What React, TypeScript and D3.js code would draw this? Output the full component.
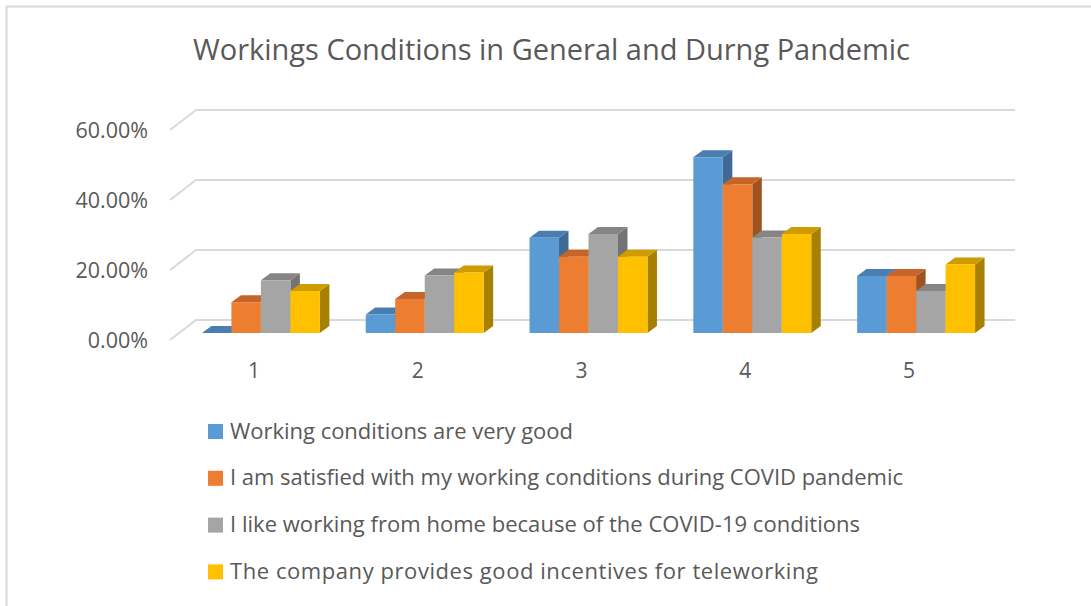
import React from "react";
import * as d3 from "d3";

const categories = ["1", "2", "3", "4", "5"];
const seriesNames = [
  "Working conditions are very good",
  "I am satisfied with my working conditions during COVID pandemic",
  "I like working from home because of the COVID-19 conditions",
  "The company provides good incentives for teleworking",
];
const seriesGood = [0, 5.3, 27.2, 50.2, 16.3];
const seriesSatisfied = [8.8, 9.7, 21.8, 42.5, 16.3];
const seriesHome = [15.1, 16.4, 28.3, 27.3, 12.0];
const seriesIncentives = [12.0, 17.3, 21.8, 28.3, 19.6];
const yTicks = [0, 20, 40, 60];

const seriesValues = [seriesGood, seriesSatisfied, seriesHome, seriesIncentives];
const frontColors = ["#5B9BD5", "#ED7D31", "#A5A5A5", "#FFC000"];
const topColors = ["#4A7EB0", "#C5652A", "#858585", "#CE9C00"];
const sideColors = ["#3E6A95", "#A0521F", "#737373", "#A88000"];
const legendWidths = [343, 673, 630, 588];

const W = 1091;
const H = 606;
const FONT = "'Open Sans', 'Noto Sans', sans-serif";
const TXT = "#595959";
const GRID = "#d9d9d9";

export default function App() {
  const frontX0 = 170, frontX1 = 989;
  const wallDX = 26;
  const backBase = 320, frontBase = 340, barBase = 333;
  const pxRange = 210; // 60%
  const barShiftX = 9;
  const sideDX = 9.5, sideDY = -7;

  const x = d3.scaleBand<string>().domain(categories).range([frontX0, frontX1]);
  const groupW = x.bandwidth() * 0.72;
  const inner = d3.scaleBand<number>().domain([0, 1, 2, 3]).range([0, groupW]);
  const yBack = d3.scaleLinear().domain([0, 60]).range([backBase, backBase - pxRange]);
  const yFront = d3.scaleLinear().domain([0, 60]).range([frontBase, frontBase - pxRange]);
  const yBar = d3.scaleLinear().domain([0, 60]).range([barBase, barBase - pxRange]);
  const fmt = (v: number) => d3.format(".2f")(v) + "%";

  const bars: React.ReactNode[] = [];
  categories.forEach((c, ci) => {
    const gx = (x(c) as number) + (x.bandwidth() - groupW) / 2 + barShiftX;
    seriesValues.forEach((vals, si) => {
      const x0 = gx + (inner(si) as number);
      const x1 = x0 + inner.bandwidth();
      const yt = yBar(vals[ci]);
      const yb = yBar(0);
      const front = `M${x0},${yt}L${x1},${yt}L${x1},${yb}L${x0},${yb}Z`;
      const top = `M${x0},${yt}L${x1},${yt}L${x1 + sideDX},${yt + sideDY}L${x0 + sideDX},${yt + sideDY}Z`;
      const side = `M${x1},${yt}L${x1 + sideDX},${yt + sideDY}L${x1 + sideDX},${yb + sideDY}L${x1},${yb}Z`;
      bars.push(
        <g key={`${ci}-${si}`}>
          <path d={side} fill={sideColors[si]} />
          <path d={top} fill={topColors[si]} />
          <path d={front} fill={frontColors[si]} />
        </g>
      );
    });
  });

  return (
    <svg
      width={W}
      height={H}
      style={{ position: "absolute", left: 0, top: 0, background: "#fff" }}
      fontFamily={FONT}
    >
      <rect x={0} y={0} width={W} height={H} fill="#fff" />
      <line x1={6} y1={6.5} x2={W} y2={6.5} stroke={GRID} strokeWidth={2} />
      <line x1={6.5} y1={6} x2={6.5} y2={H} stroke={GRID} strokeWidth={2} />

      <text x={551.5} y={60} textAnchor="middle" fontSize={29} fill={TXT} textLength={717} lengthAdjust="spacing">
        Workings Conditions in General and Durng Pandemic
      </text>

      {yTicks.map((t) => (
        <g key={t}>
          <path
            d={`M${frontX0},${yFront(t)}L${frontX0 + wallDX},${yBack(t)}L${frontX1 + wallDX},${yBack(t)}`}
            fill="none"
            stroke={GRID}
            strokeWidth={2}
          />
          <text
            x={148}
            y={yFront(t)}
            dy="0.36em"
            textAnchor="end"
            fontSize={21.5}
            fill={TXT}
          >
            {fmt(t)}
          </text>
        </g>
      ))}

      {bars}

      {categories.map((c) => (
        <text
          key={c}
          x={(x(c) as number) + x.bandwidth() / 2 + 2}
          y={378}
          textAnchor="middle"
          fontSize={21}
          fill={TXT}
        >
          {c}
        </text>
      ))}

      {seriesNames.map((n, i) => (
        <g key={n} transform={`translate(0,${i * 46.8})`}>
          <rect x={208} y={424} width={15} height={15} fill={frontColors[i]} />
          <text x={230} y={438.5} fontSize={22} fill={TXT} textLength={legendWidths[i]} lengthAdjust="spacing">
            {n}
          </text>
        </g>
      ))}
    </svg>
  );
}
